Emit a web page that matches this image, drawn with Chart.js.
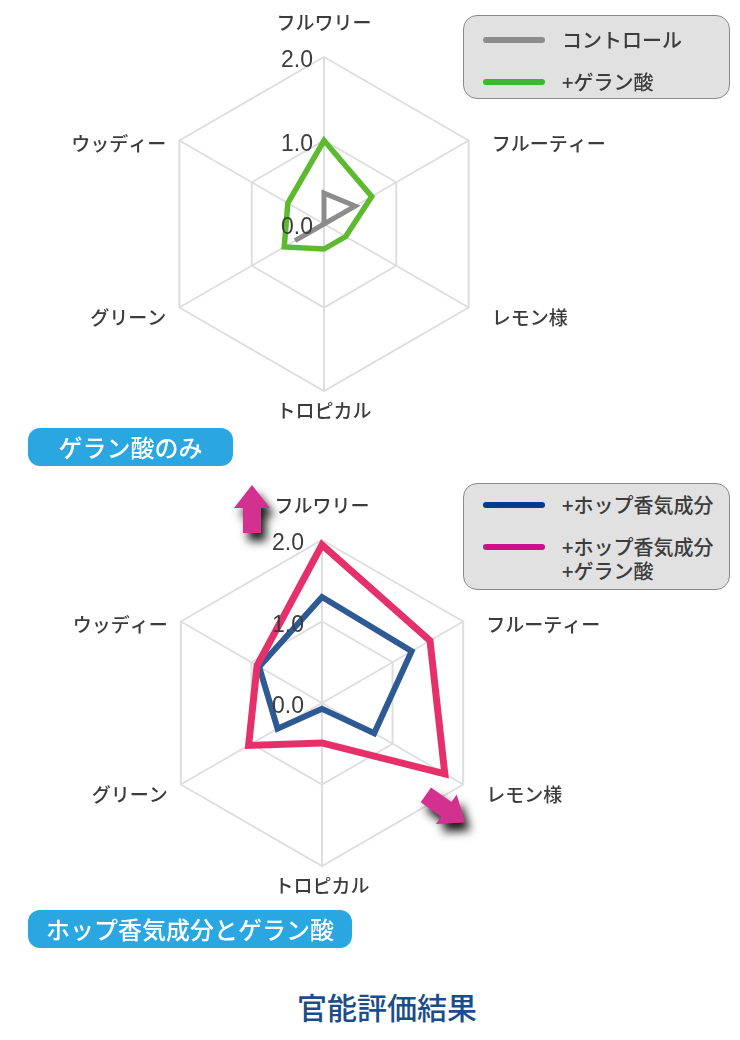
<!DOCTYPE html>
<html lang="ja">
<head>
<meta charset="utf-8">
<title>官能評価結果</title>
<script src="https://cdn.jsdelivr.net/npm/chart.js@4/dist/chart.umd.min.js"></script>
<style>
  html, body { margin: 0; padding: 0; background: #fff; }
  body {
    width: 740px; height: 1040px; position: relative; overflow: hidden;
    font-family: "Noto Sans CJK JP", "Noto Sans", sans-serif; color: #3c3c3c;
  }
  .wrap { position: absolute; left: 0; }
  #wrap1 { top: 0; width: 648px; height: 448px; }
  #wrap2 { top: 470px; width: 644px; height: 466px; }
  .legend {
    position: absolute; left: 463px; width: 267px; box-sizing: border-box;
    background: #e1e1e1; border: 1px solid #8a8a8a; border-radius: 14px;
    font-size: 20px; line-height: 24px; font-weight: 500; z-index: 2;
  }
  #legend1 { top: 15px; height: 84px; padding-top: 12px; }
  #legend2 { top: 483px; height: 107px; padding-top: 9px; }
  .legend .item { display: flex; align-items: flex-start; margin-bottom: 18px; }
  .legend .swatch {
    display: block; width: 62px; height: 6px; border-radius: 3px;
    margin: 9px 17px 0 19px; flex: none;
  }
  .legend .txt { white-space: pre-line; }
  .badge {
    position: absolute; left: 28px; height: 38px; border-radius: 12px;
    background: #2aa7e1; color: #fff; font-size: 24px; line-height: 38px;
    font-weight: 500; text-align: center;
  }
  #badge1 { top: 428px; width: 205px; }
  #badge2 { top: 910px; width: 324px; }
  #title {
    position: absolute; left: 0; top: 986px; width: 774px; text-align: center;
    font-size: 30px; line-height: 40px; color: #1b4d8a; font-weight: 500;
  }
</style>
</head>
<body>
<div class="wrap" id="wrap1"><canvas id="radarTop"></canvas></div>
<div class="legend" id="legend1"></div>
<div class="badge" id="badge1">ゲラン酸のみ</div>

<div class="wrap" id="wrap2"><canvas id="radarBottom"></canvas></div>
<div class="legend" id="legend2"></div>
<div class="badge" id="badge2">ホップ香気成分とゲラン酸</div>

<div id="title">官能評価結果</div>

<script>
// axes (clockwise from top)
const axisLabels = ["フルワリー", "フルーティー", "レモン様", "トロピカル", "グリーン", "ウッディー"];
const scaleMin = 0;
const scaleMax = 2;
const scaleStep = 1;

// upper chart: geranic acid only
const controlValues = [0.37, 0.43, 0, 0, 0.4, 0];
const geranicValues = [1.0, 0.66, 0.3, 0.3, 0.55, 0.5];

// lower chart: hop aroma + geranic acid
const hopValues = [1.3, 1.27, 0.74, 0.07, 0.63, 0.89];
const hopGeranicValues = [1.94, 1.53, 1.74, 0.49, 1.04, 0.92];

document.addEventListener("DOMContentLoaded", function () {

  // legend in a grey rounded box, built from the datasets
  const htmlLegend = {
    id: "htmlLegend",
    afterUpdate(chart, args, opts) {
      const box = document.getElementById(opts.containerID);
      box.innerHTML = "";
      chart.data.datasets.forEach(ds => {
        const item = document.createElement("div");
        item.className = "item";
        item.innerHTML = `<span class="swatch" style="background:${ds.legendColor}"></span><span class="txt">${ds.label}</span>`;
        box.appendChild(item);
      });
    }
  };

  // axis names and tick values, placed like the original
  const radarText = {
    id: "radarText",
    afterDatasetsDraw(chart, args, opts) {
      const scale = chart.scales.r;
      const ctx = chart.ctx;
      const r = scale.drawingArea;
      ctx.save();
      ctx.fillStyle = "#3c3c3c";
      ctx.font = '500 19px "Noto Sans CJK JP"';
      ctx.textBaseline = "middle";
      chart.data.labels.forEach((label, i) => {
        const p = scale.getPointPosition(i, r);
        const dx = p.x - scale.xCenter;
        const dy = p.y - scale.yCenter;
        if (Math.abs(dx) < 1) {
          ctx.textAlign = "center";
          ctx.fillText(label, p.x, dy < 0 ? p.y - 34 : p.y + 20);
        } else {
          ctx.textAlign = dx > 0 ? "left" : "right";
          const x = dx > 0 ? p.x + 23 : p.x - 13;
          ctx.fillText(label, x, dy < 0 ? p.y + 3 : p.y + 10);
        }
      });

      ctx.font = '23px "Liberation Sans", Arial, sans-serif';
      ctx.textAlign = "center";
      scale.ticks.forEach(t => {
        const d = scale.getDistanceFromCenterForValue(t.value);
        ctx.fillText(t.value.toFixed(1), scale.xCenter + opts.tickDx, scale.yCenter - d + 4);
      });
      ctx.restore();
    }
  };

  // magenta arrows with a dark soft shadow
  const arrows = {
    id: "arrows",
    afterDraw(chart, args, opts) {
      if (!opts.list) return;
      const scale = chart.scales.r;
      const ctx = chart.ctx;
      opts.list.forEach(a => {
        const p = scale.getPointPosition(a.axis, scale.drawingArea);
        ctx.save();
        ctx.translate(p.x + a.dx, p.y + a.dy);
        ctx.rotate(a.angle * Math.PI / 180);
        ctx.shadowColor = "rgba(0,0,0,0.9)";
        ctx.shadowBlur = 10;
        ctx.shadowOffsetX = 5;
        ctx.shadowOffsetY = 8;
        ctx.fillStyle = "#d4308f";
        ctx.beginPath();
        ctx.moveTo(0, 0);
        ctx.lineTo(-23, -18);
        ctx.lineTo(-23, -9);
        ctx.lineTo(-48, -9);
        ctx.lineTo(-48, 9);
        ctx.lineTo(-23, 9);
        ctx.lineTo(-23, 18);
        ctx.closePath();
        ctx.fill();
        ctx.restore();
      });
    }
  };

  function radarOptions(pad, legendID, tickDx, arrowList) {
    return {
      responsive: true,
      maintainAspectRatio: false,
      animation: false,
      layout: { padding: pad },
      elements: {
        line: { fill: false, borderJoinStyle: "miter", tension: 0 },
        point: { radius: 0, hoverRadius: 0 }
      },
      scales: {
        r: {
          min: scaleMin,
          max: scaleMax,
          ticks: { display: false, stepSize: scaleStep },
          grid: { color: "#dedede", lineWidth: 2 },
          angleLines: { color: "#dedede", lineWidth: 2 },
          pointLabels: { display: false }
        }
      },
      plugins: {
        legend: { display: false },
        tooltip: { enabled: false },
        htmlLegend: { containerID: legendID },
        radarText: { tickDx: tickDx },
        arrows: { list: arrowList }
      }
    };
  }

  new Chart(document.getElementById("radarTop"), {
    type: "radar",
    data: {
      labels: axisLabels,
      datasets: [
        { label: "コントロール", data: controlValues, borderColor: "#8c8c8c", legendColor: "#8c8c8c", borderWidth: 5, order: 1 },
        { label: "+ゲラン酸", data: geranicValues, borderColor: "#5dba2f", legendColor: "#3db535", borderWidth: 5.5, order: 0 }
      ]
    },
    options: radarOptions({ top: 57, bottom: 57, left: 157, right: 157 }, "legend1", -27, null),
    plugins: [htmlLegend, radarText, arrows]
  });

  new Chart(document.getElementById("radarBottom"), {
    type: "radar",
    data: {
      labels: axisLabels,
      datasets: [
        { label: "+ホップ香気成分", data: hopValues, borderColor: "#2d5a93", legendColor: "#033b8d", borderWidth: 6, order: 1 },
        { label: "+ホップ香気成分\n+ゲラン酸", data: hopGeranicValues, borderColor: "#e6306b", legendColor: "#cf0f83", borderWidth: 7, order: 0 }
      ]
    },
    options: radarOptions({ top: 70, bottom: 70, left: 159, right: 159 }, "legend2", -34, [
      { axis: 0, dx: -70, dy: -55, angle: -90 },
      { axis: 2, dx: 2, dy: 38, angle: 35 }
    ]),
    plugins: [htmlLegend, radarText, arrows]
  });
});
</script>
</body>
</html>
